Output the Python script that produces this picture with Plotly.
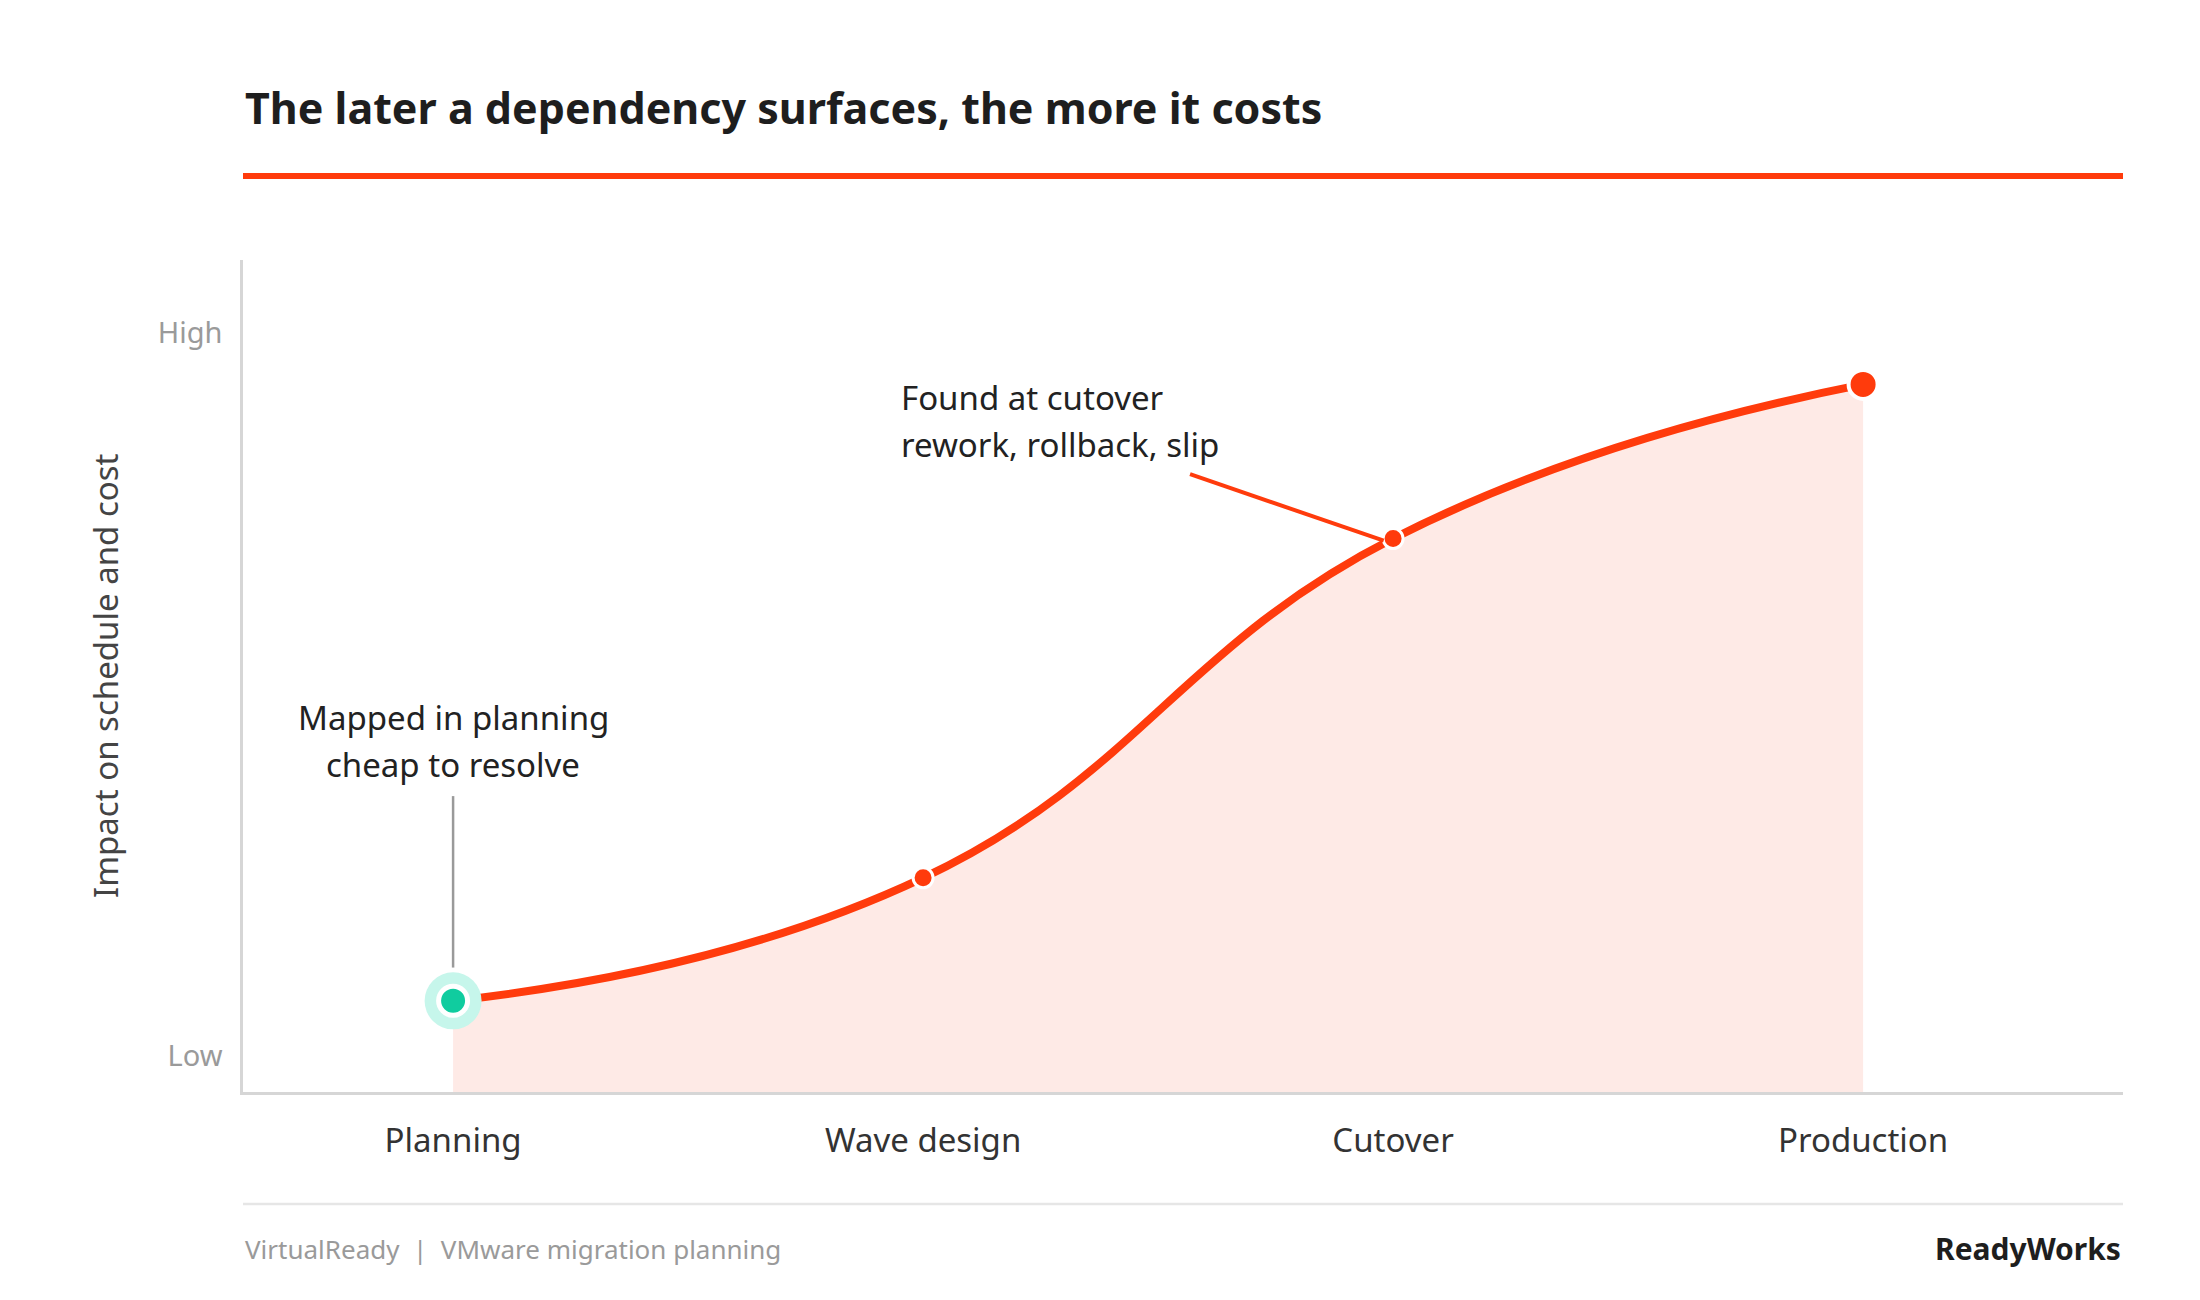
import plotly.graph_objects as go

# ---- data ----
stages = ["Planning", "Wave design", "Cutover", "Production"]
stage_pos = [0, 1, 2, 3]
impact = [1.26, 2.96, 7.65, 9.78]
y_tick_vals = [0.5, 10.5]
y_tick_text = ["Low", "High"]

title_text = "The later a dependency surfaces, the more it costs"
y_title = "Impact on schedule and cost"
note_plan = ["Mapped in planning", "cheap to resolve"]
note_cut = ["Found at cutover", "rework, rollback, slip"]
footer_left = "VirtualReady  |  VMware migration planning"
footer_right = "ReadyWorks"

RED = "#FF3B0C"
FONT = "Noto Sans"

fig = go.Figure()

fig.add_trace(go.Scatter(
    x=stage_pos, y=impact, mode="lines",
    line=dict(color=RED, width=8, shape="spline", smoothing=1.3),
    fill="tozeroy", fillcolor="#FEEAE6", hoverinfo="skip", showlegend=False,
))

# middle points
fig.add_trace(go.Scatter(
    x=stage_pos[1:3], y=impact[1:3], mode="markers",
    marker=dict(size=20, color=RED, line=dict(color="white", width=3)),
    showlegend=False, hoverinfo="skip",
))
# production point
fig.add_trace(go.Scatter(
    x=[stage_pos[3]], y=[impact[3]], mode="markers",
    marker=dict(size=29, color=RED, line=dict(color="white", width=4)),
    showlegend=False, hoverinfo="skip",
))
# planning halo + dot
fig.add_trace(go.Scatter(
    x=[stage_pos[0]], y=[impact[0]], mode="markers",
    marker=dict(size=57, color="#C6F6EB", line=dict(width=0)),
    showlegend=False, hoverinfo="skip",
))
fig.add_trace(go.Scatter(
    x=[stage_pos[0]], y=[impact[0]], mode="markers",
    marker=dict(size=29, color="#10CC9F", line=dict(color="white", width=5)),
    showlegend=False, hoverinfo="skip",
))

# leader lines
fig.add_shape(type="line", xref="x", yref="y", x0=0, x1=0, y0=4.09, y1=1.72,
              line=dict(color="#9A9A9A", width=2.5), layer="below")
fig.add_shape(type="line", xref="x", yref="y", x0=1.568, y0=8.54, x1=1.98, y1=7.62,
              line=dict(color=RED, width=4), layer="above")

# annotations (one per line for exact spacing)
for txt, yv in zip(note_plan, [5.18, 4.53]):
    fig.add_annotation(x=0, y=yv, xref="x", yref="y", text=txt, showarrow=False,
                       font=dict(family=FONT, size=33, color="#222222"),
                       xanchor="center", yanchor="middle")
for txt, yv in zip(note_cut, [9.60, 8.95]):
    fig.add_annotation(x=0.949, y=yv, xref="x", yref="y", text=txt, showarrow=False,
                       font=dict(family=FONT, size=33, color="#222222"),
                       xanchor="left", yanchor="middle")

# title and rule
fig.add_annotation(x=0, y=1.1827, xref="paper", yref="paper", text="<b>" + title_text + "</b>",
                   showarrow=False, xanchor="left", yanchor="middle",
                   font=dict(family=FONT, size=43, color="#1E1E1E"))
fig.add_shape(type="line", xref="paper", yref="paper", x0=0, x1=1, y0=1.101, y1=1.101,
              line=dict(color=RED, width=6))

# y axis title
fig.add_annotation(x=-0.0734, y=0.5, xref="paper", yref="paper", text=y_title, textangle=-90,
                   showarrow=False, xanchor="center", yanchor="middle",
                   font=dict(family=FONT, size=33, color="#444444"))

# footer
fig.add_shape(type="line", xref="paper", yref="paper", x0=0, x1=1, y0=-0.1346, y1=-0.1346,
              line=dict(color="#E6E6E6", width=2.5))
fig.add_annotation(x=0, y=-0.1887, xref="paper", yref="paper", text=footer_left,
                   showarrow=False, xanchor="left", yanchor="middle",
                   font=dict(family=FONT, size=26, color="#9A9A9A"))
fig.add_annotation(x=1, y=-0.1887, xref="paper", yref="paper", text="<b>" + footer_right + "</b>",
                   showarrow=False, xanchor="right", yanchor="middle",
                   font=dict(family=FONT, size=30, color="#1E1E1E"))

fig.update_layout(
    width=2200, height=1300,
    margin=dict(l=243, r=77, t=260, b=208),
    paper_bgcolor="white", plot_bgcolor="white",
    font=dict(family=FONT),
    showlegend=False,
    xaxis=dict(
        range=[-0.447, 3.553], tickvals=stage_pos, ticktext=stages,
        showgrid=False, zeroline=False, showline=True, linecolor="#D6D6D6", linewidth=2.5,
        ticks="outside", ticklen=18, tickcolor="rgba(0,0,0,0)",
        tickfont=dict(family=FONT, size=33, color="#333333"),
    ),
    yaxis=dict(
        range=[0, 11.5], tickvals=y_tick_vals, ticktext=y_tick_text,
        showgrid=False, zeroline=False, showline=True, linecolor="#D6D6D6", linewidth=2.5,
        ticks="outside", ticklen=12, tickcolor="rgba(0,0,0,0)",
        tickfont=dict(family=FONT, size=29, color="#9A9A9A"),
    ),
)

fig.write_html("out.html")
